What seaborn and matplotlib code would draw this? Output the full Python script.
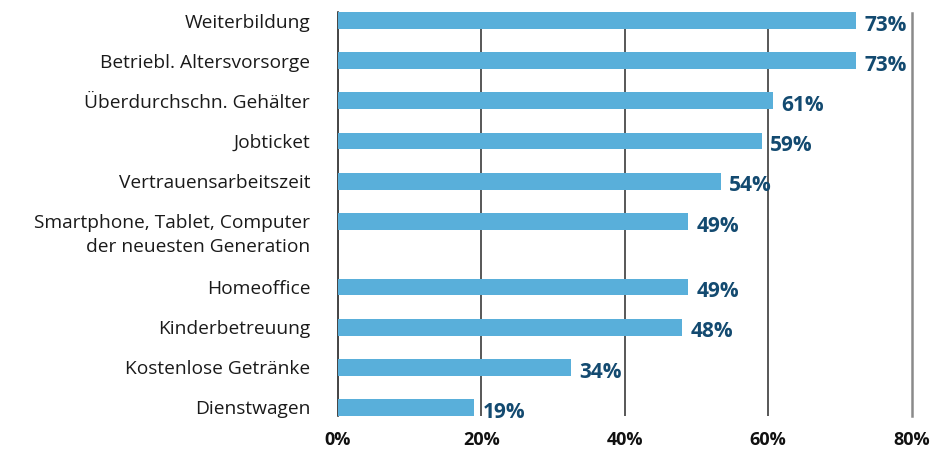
import matplotlib
matplotlib.use("Agg")
import matplotlib.pyplot as plt
import matplotlib.transforms as mtransforms
import seaborn as sns
import pandas as pd

categories = [
    "Weiterbildung",
    "Betriebl. Altersvorsorge",
    "Überdurchschn. Gehälter",
    "Jobticket",
    "Vertrauensarbeitszeit",
    "Smartphone, Tablet, Computer\nder neuesten Generation",
    "Homeoffice",
    "Kinderbetreuung",
    "Kostenlose Getränke",
    "Dienstwagen",
]
values = [72.3, 72.3, 60.7, 59.1, 53.4, 48.8, 48.8, 48.0, 32.5, 19.0]
value_labels = ["73%", "73%", "61%", "59%", "54%", "49%", "49%", "48%", "34%", "19%"]
xticks = [0, 20, 40, 60, 80]
xtick_labels = ["0%", "20%", "40%", "60%", "80%"]

# layout: row positions (extra gap after the two-line label)
rows = [0, 1, 2, 3, 4, 5, 6.64, 7.64, 8.64, 9.64]
bar_h = 0.42

sns.set_theme(style="white")
plt.rcParams["font.family"] = ["Open Sans", "DejaVu Sans"]

df = pd.DataFrame({"cat": categories, "value": values, "row": rows})

fig = plt.figure(figsize=(9.35, 4.53), dpi=100)
ax = fig.add_axes([338 / 935, 1 - 415.7 / 453, (911.5 - 338) / 935, (415.7 - 12.3) / 453])

sns.barplot(data=df, x="value", y="row", orient="y", native_scale=True,
            color="#59afda", saturation=1, width=bar_h, linewidth=0,
            ax=ax, zorder=3)

ax.set_xlim(0, 80)
ax.set_ylim(rows[-1] + bar_h / 2, rows[0] - bar_h / 2)

# vertical grid lines
for xv in [20, 40, 60]:
    ax.axvline(xv, color="#2a2a2a", lw=1.1, zorder=1)

for s in ["top", "bottom"]:
    ax.spines[s].set_visible(False)
ax.spines["left"].set_color("#111111")
ax.spines["left"].set_linewidth(1.1)
ax.spines["right"].set_color("#8a8a8a")
ax.spines["right"].set_linewidth(1.8)
ax.spines["right"].set_bounds(rows[0] - bar_h / 2 + 0.02, rows[-1] + bar_h / 2)

ax.set_xticks(xticks)
ax.set_xticklabels(xtick_labels, fontsize=13, fontweight="bold", color="#111111")
ax.tick_params(axis="x", length=0, pad=11)

ax.set_yticks(rows)
ax.set_yticklabels(categories, fontsize=13.8, color="#1a1a1a", linespacing=1.42)
ax.tick_params(axis="y", length=0, pad=20)
ax.set_xlabel("")
ax.set_ylabel("")

# two-line label: align first line with the bar
for lab in ax.get_yticklabels():
    if "\n" in lab.get_text():
        lab.set_verticalalignment("top")
        off = mtransforms.ScaledTranslation(0, 7 / 100, fig.dpi_scale_trans)
        lab.set_transform(lab.get_transform() + off)

for v, r, t in zip(values, rows, value_labels):
    ax.annotate(t, xy=(v, r), xytext=(6, -3.5), textcoords="offset points",
                ha="left", va="center", fontsize=15, fontweight="bold",
                color="#134a70", zorder=4)

fig.savefig("out.png", dpi=100)
